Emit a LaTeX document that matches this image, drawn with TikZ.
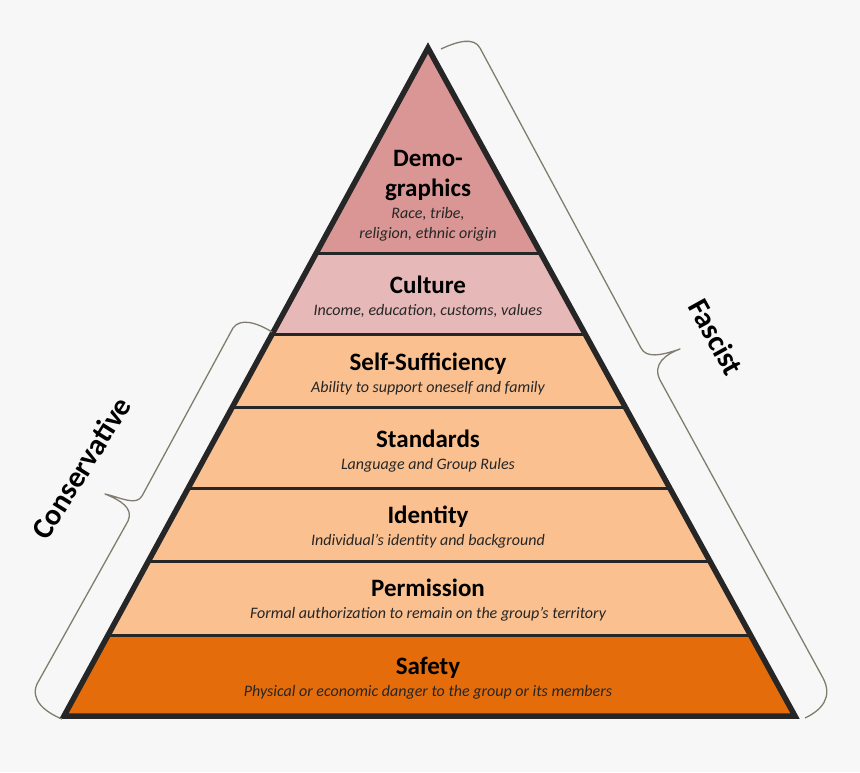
\documentclass[tikz,border=0pt]{standalone}
\usepackage{fontspec}
\setmainfont{Carlito}
\usetikzlibrary{positioning,calc}

\definecolor{bggray}{HTML}{F7F7F7}
\definecolor{demofill}{HTML}{D99694}
\definecolor{culturefill}{HTML}{E6B9B8}
\definecolor{midfill}{HTML}{FAC090}
\definecolor{safetyfill}{HTML}{E46C0A}
\definecolor{edgegray}{HTML}{262626}
\definecolor{bracegray}{RGB}{128,125,110}

\begin{document}
\begin{tikzpicture}[
    x=1pt, y=-1pt,
    node distance=5pt,
    ttl/.style={font=\fontsize{25}{30}\selectfont\bfseries, inner sep=0pt, text height=18pt, text depth=5pt},
    desc/.style={font=\fontsize{16}{19}\selectfont\itshape, text=edgegray, inner sep=0pt, text height=12pt, text depth=4pt},
    side/.style={font=\fontsize{30}{34}\selectfont\bfseries, inner sep=0pt},
    sep/.style={draw=edgegray, line width=3pt},
    brace/.style={draw=bracegray, line width=1.3pt, line join=round}
]
\fill[bggray] (0,0) rectangle (860,772);
\useasboundingbox (0,0) rectangle (860,772);

% corners of the pyramid
\coordinate (apex) at (428,48);
\coordinate (bl) at (64,716);
\coordinate (br) at (795,716);
\foreach \t [count=\i] in {0.3069,0.4296,0.5389,0.6587,0.768,0.8802} {
    \coordinate (l\i) at ($(apex)!\t!(bl)$);
    \coordinate (r\i) at ($(apex)!\t!(br)$);
}

% layers
\fill[demofill] (apex) -- (l1) -- (r1) -- cycle;
\fill[culturefill] (l1) -- (l2) -- (r2) -- (r1) -- cycle;
\fill[midfill] (l2) -- (l6) -- (r6) -- (r2) -- cycle;
\fill[safetyfill] (l6) -- (bl) -- (br) -- (r6) -- cycle;
\foreach \i in {1,...,6}
    \draw[sep] (l\i) -- (r\i);
\draw[draw=edgegray, line width=5.5pt, line join=miter] (apex) -- (bl) -- (br) -- cycle;

% texts
\node[ttl, align=center, text height={}, text depth={}] (demo) at (428,176) {Demo-\\graphics};
\node[desc, align=center, text height={}, text depth={}, font=\fontsize{16}{20}\selectfont\itshape, below=6pt of demo] (demo-d) {Race, tribe,\\religion, ethnic origin};

\node[ttl] (culture) at (428,286.5) {Culture};
\node[desc, below=of culture] (culture-d) {Income, education, customs, values};

\node[ttl] (selfsuff) at (428,363.5) {Self-Sufficiency};
\node[desc, below=of selfsuff] (selfsuff-d) {Ability to support oneself and family};

\node[ttl] (standards) at (428,440.5) {Standards};
\node[desc, below=of standards] (standards-d) {Language and Group Rules};

\node[ttl] (identity) at (428,516.5) {Identity};
\node[desc, below=of identity] (identity-d) {Individual’s identity and background};

\node[ttl] (permission) at (428,589.5) {Permission};
\node[desc, below=of permission] (permission-d) {Formal authorization to remain on the group’s territory};

\node[ttl] (safety) at (428,667.5) {Safety};
\node[desc, below=of safety] (safety-d) {Physical or economic danger to the group or its members};

% braces
\draw[brace] (441,49) .. controls (458,41) and (474,37) .. (480,48)
    -- (641,348) .. controls (646,358) and (660,356) .. (680,349)
    .. controls (666,354) and (652,364) .. (660,380)
    -- (823,678) .. controls (833,697) and (822,710) .. (805,718);
\node[side, rotate=-61] (fascist) at (716,337) {Fascist};

\draw[brace] (272,332) .. controls (256,322) and (240,318) .. (233,328)
    -- (142,496) .. controls (136,506) and (122,498) .. (105,494)
    .. controls (120,500) and (134,508) .. (128,521)
    -- (37,684) .. controls (30,700) and (45,712) .. (62,719);
\node[side, rotate=58] (conservative) at (81,468) {Conservative};
\end{tikzpicture}
\end{document}
